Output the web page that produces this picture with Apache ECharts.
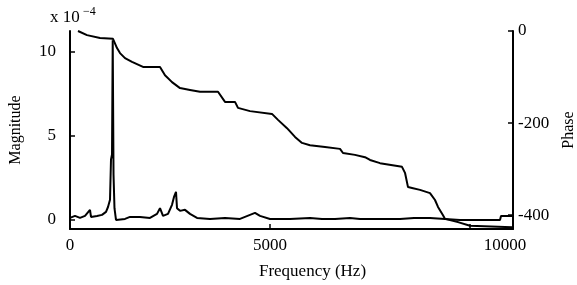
<!DOCTYPE html>
<html>
<head>
<meta charset="utf-8">
<script src="https://cdn.jsdelivr.net/npm/echarts@6/dist/echarts.min.js"></script>
<style>
  html, body { margin: 0; padding: 0; background: #fff; }
  #main { width: 577px; height: 285px; }
</style>
</head>
<body>
<div id="main"></div>
<script>
var myChart = echarts.init(document.getElementById('main'));

// 频率 (Hz) 与幅值 (x 10^-4)
var magFreq = [0, 125, 250, 375, 500, 525, 675, 800, 900, 950, 1000, 1025, 1050, 1068, 1088, 1112, 1150,
    1375, 1500, 1750, 2000, 2175, 2250, 2325, 2450, 2550, 2600, 2650, 2675, 2750, 2875, 3000, 3175,
    3500, 3875, 4250, 4625, 4750, 5000, 5500, 6000, 6300, 6625, 7000, 7250, 7500, 8250, 8600, 9000,
    9375, 9750, 10750, 10775, 11050];
var magVals = [0.12, 0.24, 0.12, 0.24, 0.6, 0.18, 0.24, 0.3, 0.48, 0.77, 1.2, 3.6, 3.9, 10.7, 2.7, 0.7, 0,
    0.06, 0.18, 0.18, 0.12, 0.36, 0.7, 0.24, 0.36, 0.9, 1.37, 1.67, 0.7, 0.54, 0.6, 0.36, 0.12,
    0.06, 0.12, 0.06, 0.42, 0.24, 0.06, 0.06, 0.12, 0.06, 0.06, 0.12, 0.06, 0.06, 0.06, 0.12, 0.12,
    0.06, 0, 0, 0.24, 0.24];

// 频率 (Hz) 与相位 (度)
var phaseFreq = [200, 425, 750, 1075, 1175, 1250, 1375, 1550, 1825, 2250, 2375, 2550, 2750, 3000, 3250,
    3700, 3875, 4125, 4200, 4500, 5050, 5200, 5425, 5625, 5800, 6000, 6375, 6750, 6825, 7125, 7375,
    7500, 7750, 8300, 8375, 8450, 8550, 8750, 9000, 9125, 9200, 9325, 9375, 9700, 10000, 11050];
var phaseVals = [0, -9, -15, -17, -37, -48, -59, -67, -78, -78, -96, -111, -124, -128, -132,
    -132, -154, -154, -167, -174, -180, -193, -211, -230, -243, -248, -252, -256, -265, -269, -274,
    -280, -287, -295, -308, -339, -341, -345, -352, -367, -382, -400, -408, -415, -423, -426];

var xTicks = [0, 5000, 10000];
var magTicks = [0, 5, 10];
var phaseTicks = [0, -200, -400];

function pairs(xs, ys) {
    return xs.map(function (x, i) { return [x, ys[i]]; });
}

var serif = 'Liberation Serif';
var axisBase = {
    axisLine: { onZero: false, lineStyle: { color: '#000', width: 2 } },
    splitLine: { show: false },
    nameTextStyle: { color: '#000', fontFamily: serif, fontSize: 16 }
};

var option = {
    animation: false,
    backgroundColor: '#fff',
    grid: { left: 70, right: 64, top: 31, bottom: 56, outerBoundsMode: 'none' },
    xAxis: Object.assign({}, axisBase, {
        type: 'value',
        min: 0,
        max: 11075,
        name: 'Frequency (Hz)',
        nameLocation: 'middle',
        nameGap: 34,
        nameTextStyle: { color: '#000', fontFamily: serif, fontSize: 17, padding: [0, 0, 0, 42] },
        axisTick: { inside: true, length: 5, customValues: xTicks, lineStyle: { color: '#000', width: 1.5 } },
        axisLabel: {
            customValues: xTicks,
            margin: 8,
            color: '#000',
            fontFamily: serif,
            fontSize: 17,
            formatter: function (v) {
                if (v === 10000) return '{s|10000}';
                return String(v);
            },
            rich: { s: { fontFamily: serif, fontSize: 17, color: '#000', padding: [0, 0, 0, 70] } }
        }
    }),
    yAxis: [
        Object.assign({}, axisBase, {
            type: 'value',
            min: -0.54,
            max: 11.25,
            name: 'Magnitude',
            nameLocation: 'middle',
            nameRotate: 90,
            nameGap: 46,
            axisTick: { inside: true, length: 5, customValues: magTicks, lineStyle: { color: '#000', width: 1.5 } },
            axisLabel: { customValues: magTicks, margin: 14, color: '#000', fontFamily: serif, fontSize: 17 }
        }),
        Object.assign({}, axisBase, {
            type: 'value',
            position: 'right',
            min: -430,
            max: 0,
            name: 'Phase',
            nameLocation: 'middle',
            nameRotate: 90,
            nameGap: 48,
            axisTick: { inside: true, length: 5, customValues: phaseTicks, lineStyle: { color: '#000', width: 1.5 } },
            axisLabel: { customValues: phaseTicks, margin: 5, color: '#000', fontFamily: serif, fontSize: 17 }
        })
    ],
    graphic: [
        { type: 'text', left: 50, top: 9, style: { text: 'x 10', font: '17px "Liberation Serif"', fill: '#000' } },
        { type: 'text', left: 83, top: 6, style: { text: '\u22124', font: '12px "Liberation Serif"', fill: '#000' } }
    ],
    series: [
        {
            name: 'Magnitude',
            type: 'line',
            yAxisIndex: 0,
            symbol: 'none',
            lineStyle: { color: '#000', width: 2 },
            data: pairs(magFreq, magVals)
        },
        {
            name: 'Phase',
            type: 'line',
            yAxisIndex: 1,
            symbol: 'none',
            lineStyle: { color: '#000', width: 2 },
            data: pairs(phaseFreq, phaseVals)
        }
    ]
};

myChart.setOption(option);
</script>
</body>
</html>
